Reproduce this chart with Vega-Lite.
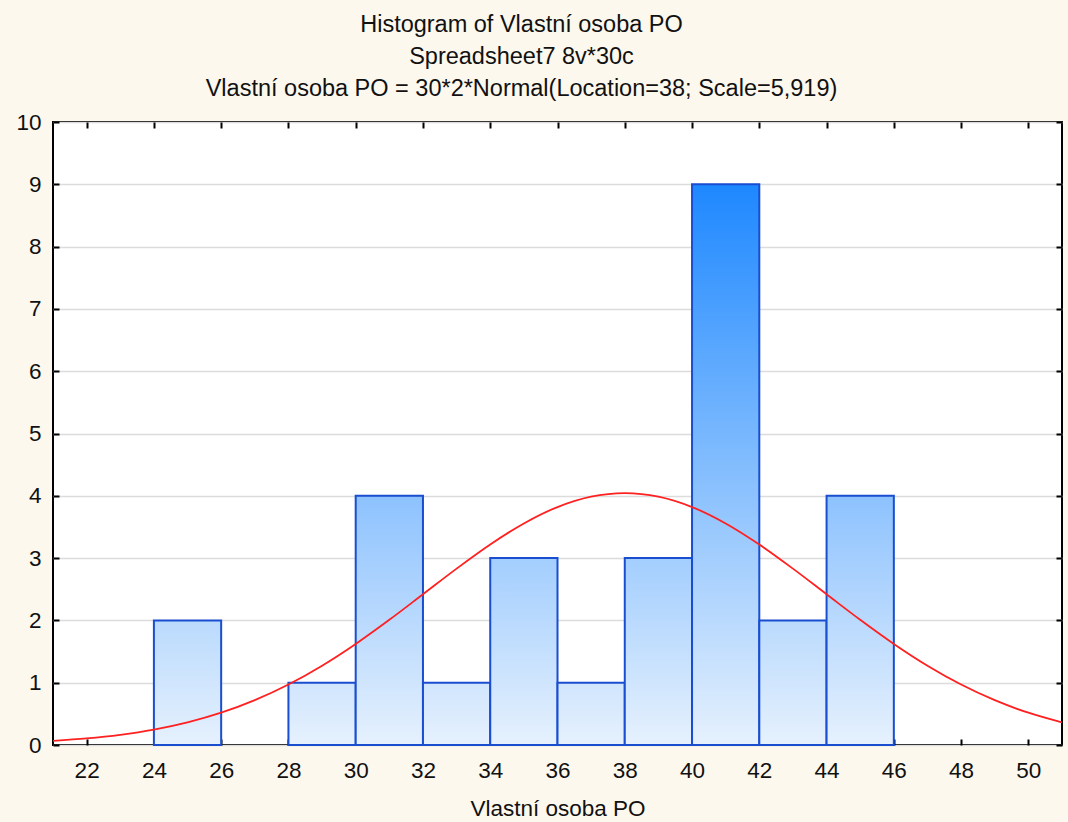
{
  "$schema": "https://vega.github.io/schema/vega-lite/v6.json",
  "width": 1009,
  "height": 623,
  "autosize": {"type": "none"},
  "padding": {"left": 53, "top": 122, "right": 6, "bottom": 77},
  "background": "#fdf8ee",
  "config": {
    "view": {"fill": "white", "stroke": "black", "strokeWidth": 2},
    "font": "Liberation Sans"
  },
  "title": {
    "text": ["Histogram of Vlastní osoba PO", "Spreadsheet7 8v*30c", "Vlastní osoba PO = 30*2*Normal(Location=38; Scale=5,919)"],
    "fontSize": 23.5,
    "fontWeight": "normal",
    "lineHeight": 32,
    "anchor": "middle",
    "frame": "group",
    "dx": -36,
    "offset": 11,
    "color": "#111111"
  },
  "layer": [
    {
      "data": {"values": [
        {"bin_start": 24, "bin_end": 26, "count": 2},
        {"bin_start": 28, "bin_end": 30, "count": 1},
        {"bin_start": 30, "bin_end": 32, "count": 4},
        {"bin_start": 32, "bin_end": 34, "count": 1},
        {"bin_start": 34, "bin_end": 36, "count": 3},
        {"bin_start": 36, "bin_end": 38, "count": 1},
        {"bin_start": 38, "bin_end": 40, "count": 3},
        {"bin_start": 40, "bin_end": 42, "count": 9},
        {"bin_start": 42, "bin_end": 44, "count": 2},
        {"bin_start": 44, "bin_end": 46, "count": 4}
      ]},
      "mark": {"type": "bar", "orient": "vertical", "stroke": "#1a4ed0", "strokeWidth": 2},
      "encoding": {
        "x": {
          "field": "bin_start", "type": "quantitative",
          "scale": {"domain": [21, 51], "nice": false, "zero": false, "padding": 0},
          "axis": {
            "title": "Vlastní osoba PO", "titleFontSize": 22.5, "titleFontWeight": "normal", "titleColor": "#111111", "titlePadding": 16,
            "values": [22, 24, 26, 28, 30, 32, 34, 36, 38, 40, 42, 44, 46, 48, 50],
            "labelFontSize": 22.5, "labelColor": "#111111", "labelPadding": 20,
            "domain": false, "grid": false, "tickSize": -6, "tickColor": "black", "tickWidth": 2
          }
        },
        "x2": {"field": "bin_end"},
        "y": {
          "field": "count", "type": "quantitative",
          "scale": {"domain": [0, 10], "nice": false, "padding": 0},
          "axis": {
            "title": null,
            "values": [0, 1, 2, 3, 4, 5, 6, 7, 8, 9, 10],
            "labelFontSize": 22.5, "labelColor": "#111111", "labelPadding": 18,
            "domain": false, "grid": true, "gridColor": "#dcdcdc", "gridWidth": 1.5,
            "tickSize": -6, "tickColor": "black", "tickWidth": 2
          }
        },
        "y2": {"datum": 0},
        "fill": {
          "condition": [
            {"test": "datum.count == 9", "value": {"gradient": "linear", "x1": 0, "y1": 0, "x2": 0, "y2": 1, "stops": [{"offset": 0, "color": "#1e88ff"}, {"offset": 1, "color": "#e6f1fd"}]}},
            {"test": "datum.count == 4", "value": {"gradient": "linear", "x1": 0, "y1": 0, "x2": 0, "y2": 1, "stops": [{"offset": 0, "color": "#8dc2fe"}, {"offset": 1, "color": "#e6f1fd"}]}},
            {"test": "datum.count == 3", "value": {"gradient": "linear", "x1": 0, "y1": 0, "x2": 0, "y2": 1, "stops": [{"offset": 0, "color": "#a3cefe"}, {"offset": 1, "color": "#e6f1fd"}]}},
            {"test": "datum.count == 2", "value": {"gradient": "linear", "x1": 0, "y1": 0, "x2": 0, "y2": 1, "stops": [{"offset": 0, "color": "#badafd"}, {"offset": 1, "color": "#e6f1fd"}]}}
          ],
          "value": {"gradient": "linear", "x1": 0, "y1": 0, "x2": 0, "y2": 1, "stops": [{"offset": 0, "color": "#d0e5fd"}, {"offset": 1, "color": "#e6f1fd"}]}
        }
      }
    },
    {
      "data": {"values": [
        {"x": 21, "y": 0.0654}, {"x": 22, "y": 0.1047}, {"x": 23, "y": 0.1630}, {"x": 24, "y": 0.2466},
        {"x": 25, "y": 0.3626}, {"x": 26, "y": 0.5180}, {"x": 27, "y": 0.7193}, {"x": 28, "y": 0.9705},
        {"x": 29, "y": 1.2729}, {"x": 30, "y": 1.6223}, {"x": 31, "y": 2.0097}, {"x": 32, "y": 2.4193},
        {"x": 33, "y": 2.8307}, {"x": 34, "y": 3.2185}, {"x": 35, "y": 3.5567}, {"x": 36, "y": 3.8196},
        {"x": 37, "y": 3.9868}, {"x": 38, "y": 4.0441}, {"x": 39, "y": 3.9868}, {"x": 40, "y": 3.8196},
        {"x": 41, "y": 3.5567}, {"x": 42, "y": 3.2185}, {"x": 43, "y": 2.8307}, {"x": 44, "y": 2.4193},
        {"x": 45, "y": 2.0097}, {"x": 46, "y": 1.6223}, {"x": 47, "y": 1.2729}, {"x": 48, "y": 0.9705},
        {"x": 49, "y": 0.7193}, {"x": 50, "y": 0.5180}, {"x": 51, "y": 0.3626}
      ]},
      "mark": {"type": "line", "color": "#ff2020", "strokeWidth": 1.8, "interpolate": "monotone", "clip": true},
      "encoding": {
        "x": {
          "field": "x", "type": "quantitative",
          "axis": {"orient": "top", "title": null, "labels": false, "domain": false, "grid": false,
                   "values": [22, 24, 26, 28, 30, 32, 34, 36, 38, 40, 42, 44, 46, 48, 50],
                   "tickSize": -6, "tickColor": "black", "tickWidth": 2}
        },
        "y": {
          "field": "y", "type": "quantitative",
          "axis": {"orient": "right", "title": null, "labels": false, "domain": false, "grid": false,
                   "values": [0, 1, 2, 3, 4, 5, 6, 7, 8, 9, 10],
                   "tickSize": -6, "tickColor": "black", "tickWidth": 2}
        }
      }
    }
  ],
  "resolve": {"axis": {"x": "independent", "y": "independent"}}
}
